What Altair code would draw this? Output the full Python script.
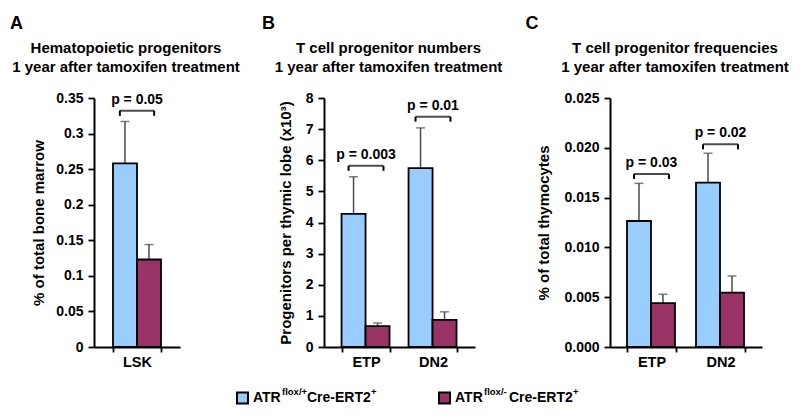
import altair as alt
import pandas as pd

# ---------------- data ----------------
groups = ["ctrl", "ko"]
group_colors = ["#99CCFF", "#993366"]
legend_sup = ["flox/+", "flox/-"]

a_cats = ["LSK"]
a_ctrl = [0.258]
a_ctrl_err = [0.317]
a_ko = [0.123]
a_ko_err = [0.144]
a_p = ["p = 0.05"]
a_bracket = [0.332]
a_ticks = [0, 0.05, 0.1, 0.15, 0.2, 0.25, 0.3, 0.35]

b_cats = ["ETP", "DN2"]
b_ctrl = [4.28, 5.75]
b_ctrl_err = [5.47, 7.04]
b_ko = [0.67, 0.87]
b_ko_err = [0.77, 1.13]
b_p = ["p = 0.003", "p = 0.01"]
b_bracket = [5.82, 7.4]
b_ticks = [0, 1, 2, 3, 4, 5, 6, 7, 8]

c_cats = ["ETP", "DN2"]
c_ctrl = [0.01265, 0.0165]
c_ctrl_err = [0.01643, 0.01945]
c_ko = [0.0044, 0.00545]
c_ko_err = [0.0053, 0.00713]
c_p = ["p = 0.03", "p = 0.02"]
c_bracket = [0.01737, 0.02035]
c_ticks = [0, 0.005, 0.01, 0.015, 0.02, 0.025]

FONT = "Liberation Sans"


def panel(letter, letter_dx, title_lines, ytitle, ytitle_pad, cats, ctrl, ctrl_err, ko, ko_err,
          pvals, brackets, ydomain, yticks, yformat, width, pad_in, pad_out):
    bars = pd.DataFrame({
        "cat": cats * 2,
        "grp": [groups[0]] * len(cats) + [groups[1]] * len(cats),
        "val": ctrl + ko,
        "err": ctrl_err + ko_err,
    })
    br = pd.DataFrame({"cat": cats, "p": pvals, "b": brackets})
    lt = pd.DataFrame({"t": [letter]})

    xscale = alt.Scale(domain=cats, paddingInner=pad_in, paddingOuter=pad_out)
    xaxis = alt.Axis(title=None, labelFontSize=14.5, labelFontWeight="bold", labelPadding=3,
                     tickBand="extent", ticks=True, tickSize=5, labelAngle=0)

    def X(**kw):
        return alt.X("cat:N", scale=xscale, axis=xaxis, sort=cats, **kw)

    yscale = alt.Scale(domain=ydomain, nice=False, zero=True)
    yaxis = alt.Axis(title=ytitle, values=yticks, format=yformat, titlePadding=ytitle_pad,
                     titleFontSize=15, titleFontWeight="bold", labelFontSize=14,
                     labelFontWeight="bold", tickSize=6, labelPadding=5)

    def Y(field):
        return alt.Y(field, scale=yscale, axis=yaxis)

    xoff = alt.XOffset("grp:N", scale=alt.Scale(domain=groups, paddingInner=0, paddingOuter=0))
    color = alt.Color("grp:N", scale=alt.Scale(domain=groups, range=group_colors), legend=None)

    base = alt.Chart(bars)
    err = base.mark_rule(color="#4a4a4a", strokeWidth=1.5).encode(
        x=X(), xOffset=xoff, y=Y("val:Q"), y2="err:Q")
    cap = base.mark_tick(color="#4a4a4a", thickness=1.5, size=9).encode(
        x=X(), xOffset=xoff, y=Y("err:Q"))
    bar = base.mark_bar(stroke="black", strokeWidth=1.8).encode(
        x=X(), xOffset=xoff, y=Y("val:Q"), color=color)

    bb = alt.Chart(br)
    bh = bb.mark_tick(color="black", thickness=2, size=35).encode(x=X(), y=Y("b:Q"))
    bl = bb.mark_rule(color="black", strokeWidth=2, y2Offset=5).encode(
        x=X(bandPosition=0.143), y=Y("b:Q"), y2="b:Q")
    brr = bb.mark_rule(color="black", strokeWidth=2, y2Offset=5).encode(
        x=X(bandPosition=0.857), y=Y("b:Q"), y2="b:Q")
    ptxt = bb.mark_text(fontSize=14, fontWeight="bold", baseline="bottom", dy=-4).encode(
        x=X(), y=Y("b:Q"), text="p:N")

    let = alt.Chart(lt).mark_text(align="left", baseline="alphabetic", fontSize=18,
                                  fontWeight="bold").encode(
        x=alt.value(letter_dx), y=alt.value(-69), text="t:N")

    return alt.layer(err, cap, bar, bh, bl, brr, ptxt, let).properties(
        width=width, height=249,
        title=alt.Title(title_lines, anchor="middle", frame="group", dx=-11, dy=60, offset=0,
                        fontSize=15, fontWeight="bold", lineHeight=19, font=FONT),
    )


A = panel("A", -84, ["Hematopoietic progenitors", "1 year after tamoxifen treatment"],
          "% of total bone marrow", 9, a_cats, a_ctrl, a_ctrl_err, a_ko, a_ko_err,
          a_p, a_bracket, [0, 0.35], a_ticks, "~g", 86, 0, 0.396)
B = panel("B", -62, ["T cell progenitor numbers", "1 year after tamoxifen treatment"],
          "Progenitors per thymic lobe (x10³)", 12, b_cats, b_ctrl, b_ctrl_err, b_ko, b_ko_err,
          b_p, b_bracket, [0, 8], b_ticks, "d", 151, 0.27, 0.262)
C = panel("C", -84.5, ["T cell progenitor frequencies", "1 year after tamoxifen treatment"],
          "% of total thymocytes", 12, c_cats, c_ctrl, c_ctrl_err, c_ko, c_ko_err,
          c_p, c_bracket, [0, 0.025], c_ticks, ".3f", 152, 0.29, 0.246)

# ---------------- legend ----------------
leg = pd.DataFrame({"grp": groups, "sup": legend_sup})
lx = alt.X("grp:N", scale=alt.Scale(type="point", domain=groups, padding=0.735), axis=None)
lcolor = alt.Color("grp:N", scale=alt.Scale(domain=groups, range=group_colors), legend=None)
lb = alt.Chart(leg)
sq = lb.mark_square(size=121, stroke="black", strokeWidth=2, opacity=1).encode(x=lx, color=lcolor)
t1 = lb.mark_text(text="ATR", align="left", baseline="middle", dx=10.5, fontSize=14,
                  fontWeight="bold").encode(x=lx)
t2 = lb.mark_text(align="left", baseline="middle", dx=39.5, dy=-6, fontSize=9.5,
                  fontWeight="bold").encode(x=lx, text="sup:N")
t3 = lb.mark_text(text="Cre-ERT2", align="left", baseline="middle", dx=64.5, fontSize=14,
                  fontWeight="bold").encode(x=lx)
t4 = lb.mark_text(text="+", align="left", baseline="middle", dx=128.5, dy=-6, fontSize=9.5,
                  fontWeight="bold").encode(x=lx)
legend = alt.layer(sq, t1, t2, t3, t4).properties(width=499, height=20)

top = alt.hconcat(A, B, C, spacing=22)
chart = alt.vconcat(top, legend, spacing=18).properties(
    padding={"left": 2, "top": 7, "right": 2, "bottom": 2},
    background="white",
).configure(font=FONT).configure_view(stroke=None).configure_axis(
    domainColor="black", domainWidth=2, tickColor="black", tickWidth=1.8,
    labelColor="black", titleColor="black", grid=False,
).configure_text(font=FONT, color="black")

chart.save("out.html", embed_options={"renderer": "svg", "actions": False})
